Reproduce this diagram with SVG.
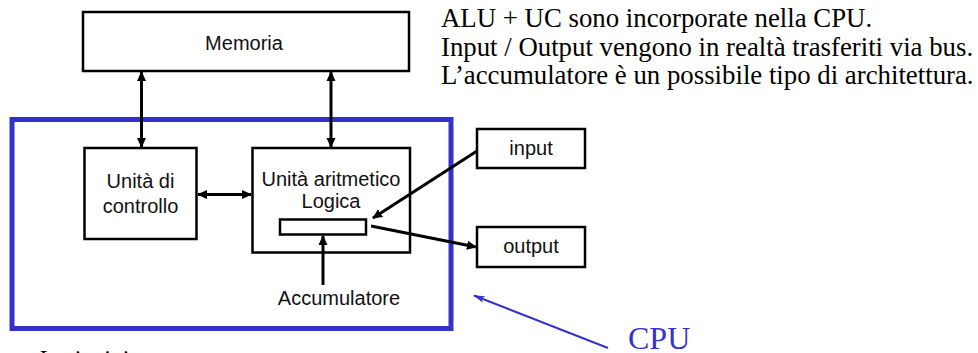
<svg xmlns="http://www.w3.org/2000/svg" width="978" height="353" viewBox="0 0 978 353">
<style>
.box{fill:#fff;stroke:#000;stroke-width:2.5}
.lbl{font-family:"Liberation Sans",Arial,sans-serif;font-size:20px;fill:#111;text-anchor:middle}
.note{font-family:"Liberation Serif","Times New Roman",serif;font-size:26.8px;fill:#000}
.conn{stroke:#000;stroke-width:3;fill:none}
</style>
<defs>
<marker id="ah" markerUnits="userSpaceOnUse" markerWidth="10" markerHeight="10" refX="9" refY="5" orient="auto-start-reverse" viewBox="0 0 10 10">
<path d="M0,0.5 L10,5 L0,9.5 z" fill="#000"/>
</marker>
<marker id="bh" markerUnits="userSpaceOnUse" markerWidth="12" markerHeight="8" refX="11" refY="4" orient="auto" viewBox="0 0 12 8">
<path d="M0,0.5 L12,4 L0,7.5 L3,4 z" fill="#3333cc"/>
</marker>
</defs>
<rect width="978" height="353" fill="#fff"/>

<g id="cpu">
<rect x="12" y="119.5" width="439" height="209" fill="none" stroke="#3333cc" stroke-width="5"/>
</g>

<g id="memoria">
<rect class="box" x="83" y="12" width="326" height="59"/>
<text class="lbl" x="244" y="50">Memoria</text>
</g>

<g id="controllo">
<rect class="box" x="84.5" y="148" width="112" height="91"/>
<text class="lbl" x="140.5" y="188">Unità di</text>
<text class="lbl" x="140.5" y="212.5">controllo</text>
</g>

<g id="alu">
<rect class="box" x="252.5" y="148" width="157.5" height="104.5"/>
<text class="lbl" x="331" y="186">Unità aritmetico</text>
<text class="lbl" x="331" y="207.5">Logica</text>
<rect class="box" x="280" y="219.5" width="86" height="15"/>
</g>

<g id="accumulatore">
<text class="lbl" x="339" y="305">Accumulatore</text>
</g>

<g id="input">
<rect class="box" x="477" y="129" width="108" height="39"/>
<text class="lbl" x="531" y="155">input</text>
</g>

<g id="output">
<rect class="box" x="477" y="227" width="108" height="40"/>
<text class="lbl" x="531" y="253">output</text>
</g>

<g id="connectors">
<line class="conn" x1="141.5" y1="72" x2="141.5" y2="147" marker-start="url(#ah)" marker-end="url(#ah)"/>
<line class="conn" x1="331" y1="72" x2="331" y2="147" marker-start="url(#ah)" marker-end="url(#ah)"/>
<line class="conn" x1="198" y1="194.5" x2="251" y2="194.5" marker-start="url(#ah)" marker-end="url(#ah)"/>
<line class="conn" x1="323" y1="285" x2="323" y2="236" marker-end="url(#ah)"/>
<line class="conn" x1="477" y1="151" x2="373" y2="218" marker-end="url(#ah)"/>
<line class="conn" x1="371" y1="226" x2="476" y2="247" marker-end="url(#ah)"/>
<line x1="608" y1="348" x2="474" y2="295.5" stroke="#3333cc" stroke-width="2" marker-end="url(#bh)"/>
</g>

<g id="notes">
<text class="note" x="441" y="27">ALU + UC sono incorporate nella CPU.</text>
<text class="note" x="441" y="55.5">Input / Output vengono in realtà trasferiti via bus.</text>
<text class="note" x="441" y="84">L’accumulatore è un possibile tipo di architettura.</text>
</g>

<g id="cpu-label">
<text x="628" y="349" font-family="Liberation Serif,'Times New Roman',serif" font-size="32" fill="#3333cc">CPU</text>
</g>

<g id="caption">
<text x="38" y="365.5" font-family="Liberation Serif,'Times New Roman',serif" font-size="24" font-style="italic" fill="#000">I principi</text>
</g>
</svg>
